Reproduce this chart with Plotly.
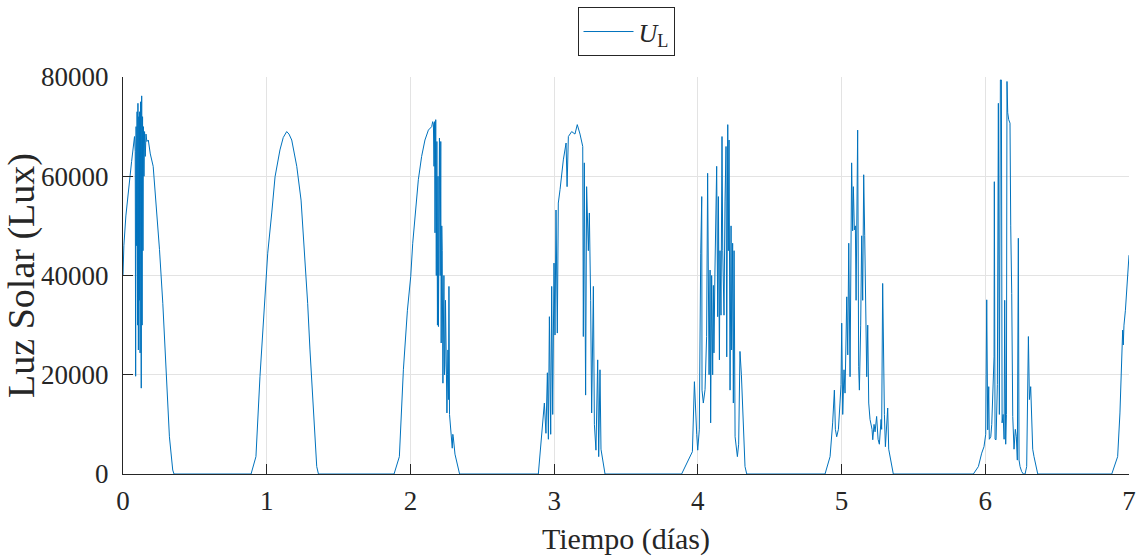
import numpy as np
import plotly.graph_objects as go

# ---- data (time in days, solar light in lux) ----
dia0_t = [0.0, 0.006, 0.02, 0.035, 0.049, 0.06, 0.072, 0.08, 0.085, 0.088, 0.091, 0.095, 0.098, 0.101,
          0.104, 0.107, 0.11, 0.113, 0.116, 0.119, 0.122, 0.125, 0.127, 0.13, 0.133, 0.136, 0.139,
          0.142, 0.146, 0.15, 0.155, 0.16, 0.166, 0.176, 0.19, 0.21, 0.23, 0.254, 0.277, 0.30, 0.323,
          0.346, 0.355]
dia0_v = [40000, 46000, 52000, 57000, 60000, 63000, 66000, 68000, 65000, 19700, 70000, 46000, 73000, 30000,
          74700, 25000, 72000, 35000, 73000, 24400, 75000, 40000, 17300, 76200, 30000, 72000, 45000,
          70000, 60000, 69000, 64000, 68500, 67000, 67300, 64500, 62000, 54600, 45200, 34400, 21000, 7500,
          800, 0]

dia1_t = [0.891, 0.925, 0.953, 0.977, 0.993, 1.007, 1.035, 1.058, 1.092, 1.115, 1.139, 1.155, 1.174,
          1.209, 1.239, 1.262, 1.285, 1.301, 1.317, 1.336, 1.348, 1.36]
dia1_v = [0, 3500, 19600, 30400, 36400, 44500, 52600, 59900, 65300, 67800, 69000, 68500, 67300,
          62000, 55200, 45200, 34400, 25000, 16300, 6200, 1500, 0]

dia2_t = [1.886, 1.923, 1.951, 1.979, 2.002, 2.016, 2.032, 2.055, 2.078, 2.101, 2.125, 2.148, 2.155,
          2.160, 2.164, 2.168, 2.171, 2.176, 2.180, 2.184, 2.188, 2.192, 2.195, 2.199, 2.202, 2.207,
          2.211, 2.214, 2.218, 2.221, 2.226, 2.230, 2.233, 2.237, 2.240, 2.244, 2.250, 2.254, 2.258,
          2.261, 2.265, 2.268, 2.272, 2.278, 2.284, 2.291, 2.295, 2.298, 2.31, 2.319, 2.342]
dia2_v = [0, 3500, 21000, 33000, 39800, 46500, 51900, 59300, 64000, 67300, 69300, 70000, 71000,
          70500, 62000, 71000, 48600, 71400, 40000, 67000, 30000, 60000, 29700, 55000, 67700, 40000,
          67000, 26400, 50000, 45000, 18300, 35000, 40000, 20000, 22000, 35000, 25000, 12300, 20000,
          25000, 15000, 37800, 12000, 10000, 7500, 5200, 8000, 7500, 4000, 2800, 0]

dia3_t = [2.890, 2.925, 2.932, 2.943, 2.953, 2.960, 2.967, 2.976, 2.983, 2.990, 2.999, 3.006, 3.013,
          3.022, 3.029, 3.041, 3.064, 3.083, 3.090, 3.099, 3.122, 3.145, 3.161, 3.180, 3.199, 3.203,
          3.210, 3.219, 3.226, 3.238, 3.245, 3.254, 3.261, 3.273, 3.280, 3.291, 3.303, 3.310, 3.319,
          3.326, 3.338, 3.354]
dia3_v = [0, 10900, 14300, 8200, 20400, 7000, 31700, 8000, 37800, 12000, 42500, 28000, 53200,
          28400, 54600, 57300, 63300, 66700, 57900, 68000, 69000, 68500, 70400, 68500, 66000, 27700,
          62700, 15900, 57900, 45000, 52600, 35000, 12300, 37800, 10000, 4800, 23000, 3500, 21000,
          5000, 3000, 0]

dia4_t = [3.887, 3.922, 3.945, 3.962, 3.976, 3.983, 3.992, 3.999, 4.010, 4.020, 4.027, 4.029, 4.038,
          4.050, 4.061, 4.068, 4.078, 4.085, 4.089, 4.096, 4.103, 4.108, 4.112, 4.119, 4.131, 4.138,
          4.143, 4.150, 4.154, 4.161, 4.168, 4.173, 4.182, 4.189, 4.196, 4.201, 4.208, 4.212, 4.217,
          4.224, 4.231, 4.235, 4.242, 4.247, 4.252, 4.259, 4.266, 4.275, 4.284, 4.293, 4.303, 4.317,
          4.328, 4.340]
dia4_v = [0, 2200, 3500, 4500, 18600, 12300, 8000, 4800, 8900, 44500, 55900, 16900, 14300,
          17000, 27700, 60600, 20000, 41100, 10300, 40000, 20000, 38000, 24400, 41100, 62000, 31700,
          55900, 23000, 45000, 32000, 68000, 45000, 32000, 55000, 66000, 23600, 70400, 45000, 67300,
          16900, 50000, 25000, 46500, 14300, 45000, 7500, 5000, 3500, 6000, 24700, 20000, 10900,
          1500, 0]

dia5_t = [4.885, 4.920, 4.938, 4.950, 4.957, 4.966, 4.978, 4.989, 4.996, 5.001, 5.008, 5.017, 5.024,
          5.031, 5.036, 5.043, 5.050, 5.059, 5.063, 5.070, 5.077, 5.082, 5.089, 5.096, 5.101, 5.105,
          5.112, 5.119, 5.124, 5.133, 5.140, 5.147, 5.154, 5.161, 5.168, 5.175, 5.182, 5.189, 5.198,
          5.205, 5.212, 5.217, 5.226, 5.233, 5.244, 5.254, 5.263, 5.275, 5.279, 5.286, 5.291, 5.298,
          5.305, 5.314, 5.321, 5.328, 5.337, 5.349, 5.360]
dia5_v = [0, 3500, 10300, 16900, 9000, 7500, 9000, 14300, 18000, 30400, 12000, 21000, 16300,
          27000, 35700, 24000, 46500, 19600, 40000, 62700, 49000, 57900, 49200, 50000, 35000, 52000,
          69300, 21600, 16900, 30000, 48000, 35000, 60300, 48000, 32000, 19600, 30000, 14300, 11000,
          10000, 9000, 6900, 10000, 8500, 11600, 7000, 6000, 11000, 9000, 38400, 20000, 12000,
          5500, 10000, 13300, 5000, 3500, 1000, 0]

dia6_t = [5.917, 5.952, 5.975, 5.991, 6.003, 6.010, 6.017, 6.024, 6.028, 6.038, 6.045, 6.052, 6.061,
          6.063, 6.068, 6.075, 6.084, 6.091, 6.098, 6.105, 6.112, 6.117, 6.124, 6.131, 6.135, 6.142,
          6.147, 6.151, 6.156, 6.163, 6.172, 6.177, 6.184, 6.191, 6.200, 6.209, 6.216, 6.223, 6.230,
          6.235, 6.242, 6.253, 6.265, 6.277, 6.288, 6.300, 6.307, 6.316, 6.323, 6.330, 6.339, 6.351,
          6.365]
dia6_v = [0, 1500, 4200, 5500, 8000, 35100, 8900, 17600, 7000, 7500, 10000, 18000, 23600,
          58900, 7000, 6900, 18000, 74700, 12000, 79400, 79400, 10300, 12000, 7000, 35000, 6000,
          12000, 79100, 72800, 71400, 70700, 50000, 36400, 11600, 5000, 9000, 7500, 2800, 47500,
          2800, 1500, 500, 0, 0, 1500, 27700, 15000, 17600, 12000, 5000, 3500, 1500,
          0]

dia7_t = [6.880, 6.921, 6.937, 6.949, 6.956, 6.960, 6.965, 6.975, 6.99, 7.0]
dia7_v = [0, 3500, 12300, 23600, 29000, 26000, 30000, 33000, 40000, 44100]

x_ticks = [0, 1, 2, 3, 4, 5, 6, 7]
y_ticks = [0, 20000, 40000, 60000, 80000]

t = np.concatenate([dia0_t, dia1_t, dia2_t, dia3_t, dia4_t, dia5_t, dia6_t, dia7_t])
v = np.concatenate([dia0_v, dia1_v, dia2_v, dia3_v, dia4_v, dia5_v, dia6_v, dia7_v])

FONT = "Liberation Serif"
AX = "#262626"

fig = go.Figure()
fig.add_trace(go.Scatter(x=t, y=v, mode="lines", name="<i>U</i><sub>L</sub>",
                         line=dict(color="#0072BD", width=1)))

axis_common = dict(showline=True, linecolor=AX, linewidth=1, mirror=False,
                   ticks="inside", ticklen=10, tickcolor=AX, tickwidth=1,
                   showgrid=True, gridcolor="#e3e3e3", gridwidth=1, zeroline=False,
                   automargin=False,
                   tickfont=dict(family=FONT, size=27, color=AX))

fig.update_xaxes(range=[0, 7], tickvals=x_ticks, ticktext=[str(k) for k in x_ticks],
                 title=dict(text="Tiempo (días)", font=dict(family=FONT, size=30, color=AX), standoff=12),
                 ticklabelstandoff=3, **axis_common)
fig.update_yaxes(range=[0, 80000], tickvals=y_ticks, ticktext=[str(k) for k in y_ticks],
                 title=dict(text="Luz Solar (Lux)", font=dict(family=FONT, size=38, color=AX), standoff=0),
                 ticklabelstandoff=8, **axis_common)

fig.update_layout(
    width=1142, height=559,
    margin=dict(l=123, r=13, t=77, b=85, autoexpand=False),
    paper_bgcolor="white", plot_bgcolor="white",
    showlegend=True,
    legend=dict(x=0.5, xanchor="center", y=1.176, yanchor="top",
                bordercolor=AX, borderwidth=1, bgcolor="white",
                font=dict(family=FONT, size=26, color=AX), itemwidth=50),
)

fig.write_html("out.html")
